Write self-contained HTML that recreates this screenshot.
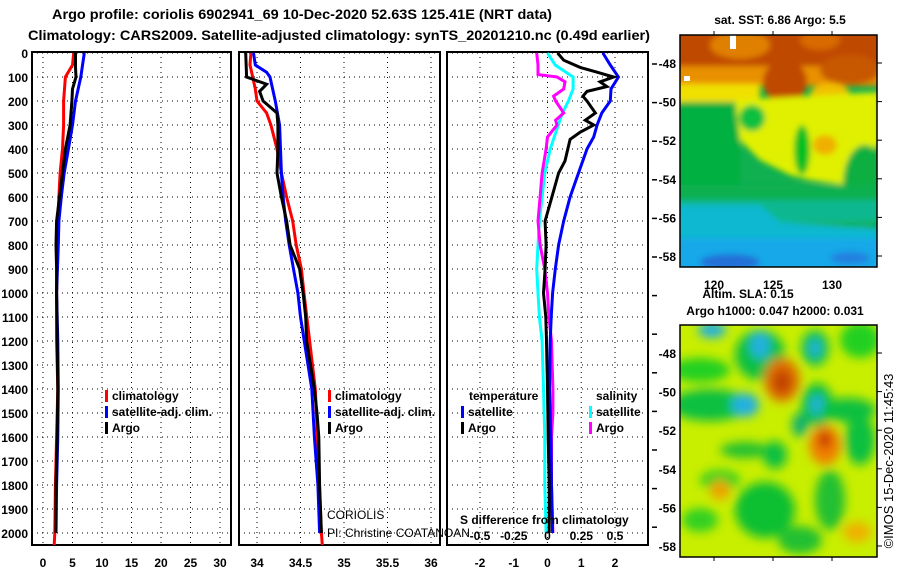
<!DOCTYPE html>
<html><head><meta charset="utf-8"><style>
body{margin:0;background:#fff;}
svg{display:block;font-family:"Liberation Sans",sans-serif;}
.t{font-weight:bold;font-size:12px;}
</style></head><body>
<svg id="fig" width="900" height="580" viewBox="0 0 900 580">
<defs>
<clipPath id="c1"><rect x="32" y="52" width="199" height="493"/></clipPath>
<clipPath id="c2"><rect x="239" y="52" width="201" height="493"/></clipPath>
<clipPath id="c3"><rect x="447" y="52" width="201" height="493"/></clipPath>
<clipPath id="m1"><rect x="680" y="35" width="197" height="232"/></clipPath>
<clipPath id="m2"><rect x="680" y="325" width="197" height="232"/></clipPath>
<filter id="bl" x="-20%" y="-20%" width="140%" height="140%"><feGaussianBlur stdDeviation="3"/></filter>
<filter id="bl2" x="-50%" y="-50%" width="200%" height="200%"><feGaussianBlur stdDeviation="5"/></filter>
</defs>
<text x="302" y="19" text-anchor="middle" class="t" style="font-size:14px" textLength="500" lengthAdjust="spacingAndGlyphs">Argo profile: coriolis 6902941_69 10-Dec-2020 52.63S 125.41E (NRT data)</text>
<text x="339" y="40" text-anchor="middle" class="t" style="font-size:14px" textLength="622" lengthAdjust="spacingAndGlyphs">Climatology: CARS2009. Satellite-adjusted climatology: synTS_20201210.nc (0.49d earlier)</text>

<g>
<g clip-path="url(#m1)">
<rect x="680" y="35" width="197" height="232" fill="#10b050"/>
<g filter="url(#bl)">
<rect x="670" y="25" width="220" height="50" fill="#c04a00"/>
<ellipse cx="740" cy="45" rx="30" ry="14" fill="#e08000"/>
<ellipse cx="820" cy="40" rx="20" ry="10" fill="#d86a00"/>
<rect x="670" y="66" width="220" height="20" fill="#e89000"/>
<ellipse cx="785" cy="82" rx="22" ry="22" fill="#c04a00"/>
<ellipse cx="850" cy="70" rx="30" ry="15" fill="#c85800"/>
<rect x="670" y="84" width="90" height="18" fill="#f0e000"/>
<ellipse cx="830" cy="95" rx="20" ry="12" fill="#f0c000"/>
<rect x="670" y="102" width="70" height="100" fill="#00b040"/>
<path d="M735,100 L880,92 L880,145 L860,160 L845,185 L810,180 L790,175 L760,160 L740,140 Z" fill="#e0f000"/>
<ellipse cx="752" cy="118" rx="13" ry="13" fill="#10c040"/>
<ellipse cx="825" cy="145" rx="12" ry="10" fill="#f0b000"/>
<ellipse cx="802" cy="150" rx="8" ry="25" fill="#00c020"/>
<ellipse cx="865" cy="185" rx="22" ry="40" fill="#10b040"/>
<rect x="670" y="185" width="220" height="20" fill="#10b050"/>
<rect x="670" y="200" width="220" height="22" fill="#10b890"/>
<path d="M670,205 L760,205 L780,222 L880,228 L880,280 L670,280 Z" fill="#10b8d0"/>
<rect x="670" y="238" width="220" height="40" fill="#18a8e8"/>
<ellipse cx="730" cy="262" rx="30" ry="8" fill="#2070d8"/>
<ellipse cx="850" cy="258" rx="20" ry="6" fill="#2080e0"/>
</g>
<rect x="730" y="35" width="6" height="14" fill="#fff"/>
<rect x="684" y="76" width="6" height="5" fill="#fff"/>
</g>
<rect x="680" y="35" width="197" height="232" fill="none" stroke="#000" stroke-width="1.5"/>
</g>
<g>
<g clip-path="url(#m2)">
<rect x="680" y="325" width="197" height="232" fill="#c8ee00"/>
<g filter="url(#bl2)">
<ellipse cx="700" cy="370" rx="30" ry="12" fill="#20d020"/>
<ellipse cx="760" cy="355" rx="25" ry="25" fill="#10c040"/>
<ellipse cx="760" cy="345" rx="10" ry="14" fill="#20b0e0"/>
<ellipse cx="712" cy="330" rx="14" ry="8" fill="#20b0e0"/>
<ellipse cx="817" cy="405" rx="16" ry="22" fill="#10c040"/>
<ellipse cx="817" cy="405" rx="7" ry="10" fill="#20b0e0"/>
<ellipse cx="815" cy="348" rx="14" ry="18" fill="#10c050"/>
<ellipse cx="815" cy="348" rx="6" ry="9" fill="#20b0e0"/>
<ellipse cx="782" cy="380" rx="18" ry="22" fill="#e07000"/>
<ellipse cx="782" cy="382" rx="9" ry="12" fill="#c04000"/>
<ellipse cx="710" cy="405" rx="40" ry="16" fill="#10c040"/>
<ellipse cx="745" cy="405" rx="14" ry="12" fill="#20b0e0"/>
<ellipse cx="800" cy="425" rx="8" ry="12" fill="#10b070"/>
<ellipse cx="848" cy="410" rx="28" ry="12" fill="#10c040"/>
<ellipse cx="860" cy="440" rx="15" ry="25" fill="#10c040"/>
<ellipse cx="860" cy="340" rx="20" ry="18" fill="#20d020"/>
<ellipse cx="825" cy="445" rx="16" ry="20" fill="#f08000"/>
<ellipse cx="825" cy="440" rx="6" ry="8" fill="#c02000"/>
<ellipse cx="745" cy="450" rx="25" ry="8" fill="#20c030"/>
<ellipse cx="775" cy="455" rx="12" ry="14" fill="#10c040"/>
<ellipse cx="720" cy="480" rx="20" ry="10" fill="#30d020"/>
<ellipse cx="765" cy="510" rx="30" ry="28" fill="#10c030"/>
<ellipse cx="830" cy="500" rx="15" ry="30" fill="#20c030"/>
<ellipse cx="700" cy="520" rx="18" ry="12" fill="#30d020"/>
<ellipse cx="720" cy="490" rx="10" ry="10" fill="#f0a000"/>
<ellipse cx="800" cy="540" rx="22" ry="14" fill="#20c030"/>
<ellipse cx="857" cy="532" rx="14" ry="10" fill="#f0b000"/>
</g>
</g>
<rect x="680" y="325" width="197" height="232" fill="none" stroke="#000" stroke-width="1.5"/>
</g>
<g id="maplabels"></g>
<g id="charts"></g>
</svg>
<script>
// ---- data ----
var depthTicks = [0,100,200,300,400,500,600,700,800,900,1000,1100,1200,1300,1400,1500,1600,1700,1800,1900,2000];
var tTicks = [0,5,10,15,20,25,30];
var sTicks = [34,34.5,35,35.5,36];
var sTickLabels = ["34","34.5","35","35.5","36"];
var dTicks = [-2,-1,0,1,2];
var sdTicks = [-0.5,-0.25,0,0.25,0.5];
var sdTickLabels = ["-0.5","-0.25","0","0.25","0.5"];

var tArgoDepth = [0,60,100,150,200,300,400,500,600,700,800,900,1000,1200,1400,1600,1800,2000];
var tArgo = [5.5,5.5,5.6,5.0,4.9,4.6,3.8,3.3,2.8,2.3,2.2,2.3,2.3,2.4,2.5,2.4,2.2,2.2];
var tClimDepth = [0,50,100,200,300,400,500,600,700,800,1000,1200,1400,1600,1800,2000,2050];
var tClim = [5.2,5.0,3.8,3.5,3.5,3.3,2.9,2.7,2.5,2.4,2.3,2.3,2.5,2.3,2.1,2.0,1.9];
var tSatDepth = [0,100,200,300,400,500,600,700,800,1000,1200,1400,1600,1800,2000];
var tSat = [7.0,6.4,5.5,5.0,4.3,3.6,3.1,2.7,2.6,2.3,2.5,2.6,2.5,2.3,2.2];

var sArgoDepth = [0,100,130,160,200,250,300,400,500,600,700,800,900,1000,1100,1200,1400,1500,1600,1800,2000];
var sArgo = [33.87,33.88,34.11,34.03,34.07,34.23,34.24,34.24,34.23,34.28,34.34,34.38,34.49,34.53,34.56,34.57,34.66,34.69,34.71,34.72,34.74];
var sClimDepth = [0,50,100,150,200,250,300,400,500,600,700,800,900,1000,1400,2000,2050];
var sClim = [33.93,33.92,33.95,33.98,34.0,34.11,34.16,34.23,34.28,34.34,34.41,34.45,34.51,34.54,34.67,34.74,34.75];
var sSatDepth = [0,50,80,100,200,300,400,500,600,700,800,900,1000,1100,1400,1600,1800,2000];
var sSat = [33.96,33.98,34.11,34.15,34.21,34.26,34.27,34.28,34.30,34.33,34.37,34.42,34.47,34.50,34.63,34.66,34.70,34.72];

var dTSatDepth = [0,50,100,150,200,250,300,350,400,500,600,700,800,900,1000,1100,1200,1400,1600,1800,2000];
var dTSat = [1.64,1.86,2.1,1.88,1.86,1.61,1.47,1.37,1.17,0.92,0.67,0.48,0.33,0.23,0.15,0.11,0.08,0.06,0.1,0.12,0.15];
var dTArgoDepth = [0,30,60,80,100,120,140,160,180,200,250,280,300,330,360,400,450,500,600,700,800,900,1000,1100,1200,1400,1600,1800,2000];
var dTArgo = [0.3,0.48,0.97,1.47,1.96,1.56,1.76,1.17,1.05,1.17,1.42,1.12,1.37,0.97,0.67,0.6,0.52,0.33,0.13,-0.07,-0.04,-0.07,-0.12,-0.05,-0.03,0.0,0.02,0.05,0.05];
var dSSatDepth = [0,50,100,150,200,250,300,400,500,600,700,800,900,1000,1100,1200,1400,1600,1800,2000];
var dSSat = [0,0.057,0.19,0.19,0.155,0.11,0.08,0.02,-0.02,-0.04,-0.06,-0.07,-0.08,-0.07,-0.06,-0.04,-0.03,-0.02,-0.02,-0.01];
var dSArgoDepth = [0,50,90,100,120,150,180,200,250,280,300,350,400,500,600,700,800,900,1000,1100,1200,1400,1500,1600,1800,2000];
var dSArgo = [-0.08,-0.07,-0.07,0.07,0.13,0.12,0.045,0.06,0.12,0.06,0.07,0.0,-0.01,-0.04,-0.055,-0.07,-0.055,-0.02,0.0,0.01,0.03,0.04,0.04,0.03,0.03,0.04];

var latTicks = [48,50,52,54,56,58];
var lonTicks = [120,125,130];

// ---- helpers ----
var NS='http://www.w3.org/2000/svg';
var G=document.getElementById('charts');
function mk(tag,attrs,parent){var e=document.createElementNS(NS,tag);for(var k in attrs)e.setAttribute(k,attrs[k]);(parent||G).appendChild(e);return e;}
function yD(d){return 53+d*0.24;}
var panels=[
 {x0:32,x1:231,v0:0,v1:30,a:43,b:220,ticks:tTicks,labels:tTicks.map(String),clip:'c1',name:'temperature'},
 {x0:239,x1:440,v0:34,v1:36,a:257,b:431,ticks:sTicks,labels:sTickLabels,clip:'c2',name:'salinity'},
 {x0:447,x1:648,v0:-2,v1:2,a:480,b:615,ticks:dTicks,labels:dTicks.map(String),clip:'c3',name:'difference'}
];
panels.forEach(function(p){p.f=function(v){return p.a+(v-p.v0)*(p.b-p.a)/(p.v1-p.v0);};});
function sdX(v){return panels[2].f(v*4);}

panels.forEach(function(p,i){
  var g=mk('g',{});
  
  
  depthTicks.forEach(function(d){
    var l=mk('line',{x1:p.x0,x2:p.x1,y1:yD(d),y2:yD(d),stroke:'#000','stroke-width':1,'stroke-dasharray':'1 4'},g);
    
    
  });
  p.ticks.forEach(function(v,j){
    var x=p.f(v);
    var l=mk('line',{x1:x,x2:x,y1:52,y2:545,stroke:'#000','stroke-width':1,'stroke-dasharray':'1 4'},g);
    
    
    var t=mk('text',{x:x,y:567,'text-anchor':'middle','class':'t'},g);
    t.textContent=p.labels[j];
    
    
  });
  var fr=mk('rect',{x:p.x0,y:52,width:p.x1-p.x0,height:493,fill:'none',stroke:'#000','stroke-width':2},g);
  
  
});
depthTicks.forEach(function(d){
  var t=mk('text',{x:28,y:yD(d)+5,'text-anchor':'end','class':'t'});
  t.textContent=String(d);
  
  
});
for(var ry=64; ry<548; ry+=38.6){
  var rl=mk('line',{x1:652,x2:657,y1:ry,y2:ry,stroke:'#000','stroke-width':1.5});
  
  
}

function line(depths,vals,fx,color,clip,name){
  var pts=depths.map(function(d,i){return fx(vals[i]).toFixed(1)+','+yD(d).toFixed(1);}).join(' ');
  var pl=mk('polyline',{points:pts,fill:'none',stroke:color,'stroke-width':3,'stroke-linejoin':'miter','clip-path':'url(#'+clip+')'});
  
  
}
var P=panels;
line(tClimDepth,tClim,P[0].f,'#ff0000','c1','temp-climatology-line');
line(tSatDepth,tSat,P[0].f,'#0000ff','c1','temp-satellite-line');
line(tArgoDepth,tArgo,P[0].f,'#000000','c1','temp-argo-line');
line(sClimDepth,sClim,P[1].f,'#ff0000','c2','sal-climatology-line');
line(sSatDepth,sSat,P[1].f,'#0000ff','c2','sal-satellite-line');
line(sArgoDepth,sArgo,P[1].f,'#000000','c2','sal-argo-line');
line(dSSatDepth,dSSat,sdX,'#00ffff','c3','sal-diff-satellite-line');
line(dSArgoDepth,dSArgo,sdX,'#ff00ff','c3','sal-diff-argo-line');
line(dTSatDepth,dTSat,P[2].f,'#0000ff','c3','temp-diff-satellite-line');
line(dTArgoDepth,dTArgo,P[2].f,'#000000','c3','temp-diff-argo-line');

function legend(x,y,color,label,name){
  var g=mk('g',{});
  
  
  if(color) mk('rect',{x:x,y:y-10,width:3,height:12,fill:color},g);
  var t=mk('text',{x:x+7,y:y,'class':'t'},g);
  t.textContent=label;
}
legend(105,400,'#ff0000','climatology','legend-entry-climatology');
legend(105,416,'#0000ff','satellite-adj. clim.','legend-entry-satellite');
legend(105,432,'#000000','Argo','legend-entry-argo');
legend(328,400,'#ff0000','climatology','legend-entry-climatology');
legend(328,416,'#0000ff','satellite-adj. clim.','legend-entry-satellite');
legend(328,432,'#000000','Argo','legend-entry-argo');
legend(462,400,null,'temperature','legend-title-temperature');
legend(461,416,'#0000ff','satellite','legend-entry-temp-satellite');
legend(461,432,'#000000','Argo','legend-entry-temp-argo');
legend(589,400,null,'salinity','legend-title-salinity');
legend(589,416,'#00ffff','satellite','legend-entry-sal-satellite');
legend(589,432,'#ff00ff','Argo','legend-entry-sal-argo');

var t=mk('text',{x:327,y:519,'font-size':12});t.textContent='CORIOLIS';


t=mk('text',{x:327,y:537,'font-size':12});t.textContent='PI: Christine COATANOAN';


t=mk('text',{x:460,y:524,'class':'t'});t.textContent='S difference from climatology';


sdTicks.forEach(function(v,j){
  var s=mk('text',{x:sdX(v),y:540,'text-anchor':'middle','class':'t'});
  s.textContent=sdTickLabels[j];
  
  
});

// map labels
var M=document.getElementById('maplabels');
function lonX(l){return 714+(l-120)*11.8;}
function latY1(l){return 63+(l-48)*19.3;}
function latY2(l){return 353+(l-48)*19.3;}
latTicks.forEach(function(l){
  [latY1(l),latY2(l)].forEach(function(y){
    var s=mk('text',{x:676,y:y+5,'text-anchor':'end','class':'t'},M);
    s.textContent='-'+l;
    
    
    mk('line',{x1:877,x2:882,y1:y,y2:y,stroke:'#000'},M);
  });
});
lonTicks.forEach(function(l){
  var s=mk('text',{x:lonX(l),y:289,'text-anchor':'middle','class':'t'},M);
  s.textContent=String(l);
  
  
  mk('line',{x1:lonX(l),x2:lonX(l),y1:31,y2:35,stroke:'#000'},M);
  mk('line',{x1:lonX(l),x2:lonX(l),y1:557,y2:561,stroke:'#000'},M);
});
s=mk('text',{x:780,y:24,'text-anchor':'middle','class':'t'},M);s.textContent='sat. SST: 6.86 Argo: 5.5';


s=mk('text',{x:748,y:298,'text-anchor':'middle','class':'t'},M);s.textContent='Altim. SLA: 0.15';


s=mk('text',{x:775,y:315,'text-anchor':'middle','class':'t'},M);s.textContent='Argo h1000: 0.047 h2000: 0.031';


s=mk('text',{x:0,y:0,'text-anchor':'middle','font-size':13,transform:'translate(893,461) rotate(-90)'},M);s.textContent='©IMOS 15-Dec-2020 11:45:43';


</script>
</body></html>
